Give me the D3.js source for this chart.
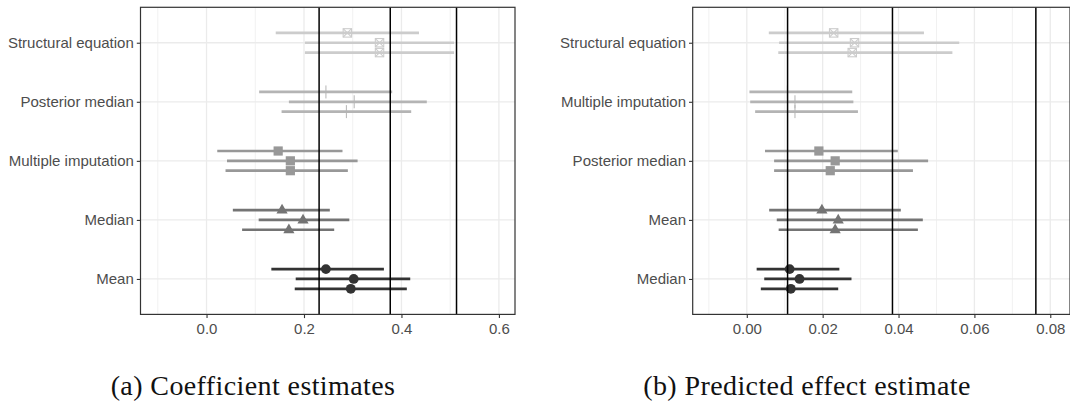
<!DOCTYPE html>
<html>
<head>
<meta charset="utf-8">
<script src="https://cdn.jsdelivr.net/npm/d3@7"></script>
<style>
  body { margin: 0; background: #fff; }
  svg { display: block; }
</style>
</head>
<body>
<svg id="chart" width="1070" height="410"></svg>
<script>
// panel (a): coefficient estimates
const methodsA = ["Structural equation", "Posterior median", "Multiple imputation", "Median", "Mean"];
const estA = [[0.289, 0.355, 0.355], [0.245, 0.303, 0.287], [0.147, 0.172, 0.172], [0.155, 0.198, 0.169], [0.245, 0.302, 0.296]];
const lowA = [[0.142, 0.202, 0.202], [0.108, 0.169, 0.154], [0.022, 0.042, 0.039], [0.054, 0.107, 0.073], [0.133, 0.183, 0.181]];
const highA = [[0.436, 0.508, 0.508], [0.381, 0.452, 0.420], [0.279, 0.310, 0.290], [0.253, 0.293, 0.262], [0.364, 0.418, 0.411]];
const refA = [0.231, 0.377, 0.513];
const ticksA = [0.0, 0.2, 0.4, 0.6];
const minorA = [-0.1, 0.1, 0.3, 0.5];

// panel (b): predicted effect estimate
const methodsB = ["Structural equation", "Multiple imputation", "Posterior median", "Mean", "Median"];
const estB = [[0.0229, 0.0284, 0.0278], [0.0107, 0.0127, 0.0127], [0.0190, 0.0233, 0.0220], [0.0198, 0.0241, 0.0233], [0.0113, 0.0139, 0.0116]];
const lowB = [[0.0058, 0.0085, 0.0083], [0.0007, 0.0009, 0.0022], [0.0048, 0.0072, 0.0072], [0.0059, 0.0079, 0.0084], [0.0026, 0.0046, 0.0037]];
const highB = [[0.0467, 0.0560, 0.0542], [0.0278, 0.0281, 0.0293], [0.0398, 0.0478, 0.0438], [0.0406, 0.0464, 0.0451], [0.0244, 0.0276, 0.0241]];
const refB = [0.01075, 0.0384, 0.0762];
const ticksB = [0.00, 0.02, 0.04, 0.06, 0.08];
const minorB = [-0.01, 0.01, 0.03, 0.05, 0.07];

const captions = ["(a) Coefficient estimates", "(b) Predicted effect estimate"];

// grey levels and shapes go by row position, top to bottom
const greys = ["#cccccc", "#b4b4b4", "#989898", "#747474", "#333333"];
const shapes = ["boxx", "bar", "square", "triangle", "circle"];

const svg = d3.select("#chart");

function drawPanel(opt) {
    const g = svg.append("g");
    const x = d3.scaleLinear().domain(opt.domain).range([opt.left, opt.right]);
    const y = d3.scalePoint().domain(opt.methods).range([7.3, 314.4]).padding(0.6);
    const step = y.step();
    const dodge = [-step / 6, 0, step / 6];

    // grid
    g.append("g").selectAll("line").data(opt.minor).join("line")
        .attr("x1", d => x(d)).attr("x2", d => x(d))
        .attr("y1", 7.3).attr("y2", 314.4)
        .attr("stroke", "#ebebeb").attr("stroke-width", 0.7);
    g.append("g").selectAll("line").data(opt.ticks).join("line")
        .attr("x1", d => x(d)).attr("x2", d => x(d))
        .attr("y1", 7.3).attr("y2", 314.4)
        .attr("stroke", "#ebebeb").attr("stroke-width", 1.3);
    g.append("g").selectAll("line").data(opt.methods).join("line")
        .attr("x1", opt.left).attr("x2", opt.right)
        .attr("y1", d => y(d)).attr("y2", d => y(d))
        .attr("stroke", "#ebebeb").attr("stroke-width", 1.3);

    // rows
    const rows = [];
    opt.methods.forEach((m, i) => {
        for (let k = 0; k < 3; k++) {
            rows.push({m: m, i: i, k: k, est: opt.est[i][k], lo: opt.low[i][k], hi: opt.high[i][k]});
        }
    });
    const yy = d => y(d.m) + dodge[d.k];

    g.append("g").selectAll("line").data(rows).join("line")
        .attr("x1", d => x(d.lo)).attr("x2", d => x(d.hi))
        .attr("y1", yy).attr("y2", yy)
        .attr("stroke", d => greys[d.i]).attr("stroke-width", 2.7);

    const pts = g.append("g").selectAll("g").data(rows).join("g")
        .attr("transform", d => `translate(${x(d.est)},${yy(d)})`);
    pts.each(function(d) {
        const p = d3.select(this), c = greys[d.i];
        const s = shapes[d.i];
        if (s === "circle") {
            p.append("circle").attr("r", 4.9).attr("fill", c);
        } else if (s === "square") {
            p.append("rect").attr("x", -4.6).attr("y", -4.6).attr("width", 9.2).attr("height", 9.2).attr("fill", c);
        } else if (s === "triangle") {
            p.append("path").attr("d", "M0,-6.2L5.6,3.5L-5.6,3.5Z").attr("fill", c);
        } else if (s === "bar") {
            p.append("line").attr("y1", -6.5).attr("y2", 6.5).attr("stroke", c).attr("stroke-width", 1);
        } else {
            p.append("rect").attr("x", -4.2).attr("y", -4.2).attr("width", 8.4).attr("height", 8.4)
                .attr("fill", "none").attr("stroke", c).attr("stroke-width", 1.1);
            p.append("path").attr("d", "M-4.2,-4.2L4.2,4.2M-4.2,4.2L4.2,-4.2")
                .attr("stroke", c).attr("stroke-width", 1.1);
        }
    });

    // reference lines
    g.append("g").selectAll("line").data(opt.refs).join("line")
        .attr("x1", d => x(d)).attr("x2", d => x(d))
        .attr("y1", 7.3).attr("y2", 314.4)
        .attr("stroke", "#000").attr("stroke-width", 1.5);

    // border
    g.append("rect").attr("x", opt.left).attr("y", 7.3)
        .attr("width", opt.right - opt.left).attr("height", 314.4 - 7.3)
        .attr("fill", "none").attr("stroke", "#333333").attr("stroke-width", 1.2);

    // axes
    const ax = g.append("g").attr("transform", "translate(0,314.4)")
        .call(d3.axisBottom(x).tickValues(opt.ticks).tickFormat(opt.fmt).tickSize(3.7).tickPadding(4));
    const ay = g.append("g").attr("transform", `translate(${opt.left},0)`)
        .call(d3.axisLeft(y).tickSize(3.7).tickPadding(3));
    [ax, ay].forEach(a => {
        a.select(".domain").remove();
        a.selectAll(".tick line").attr("stroke", "#333333").attr("stroke-width", 1.1);
        a.selectAll(".tick text").attr("fill", "#4d4d4d")
            .style("font-family", "'Liberation Sans', Arial, sans-serif").style("font-size", "15px");
    });
    ax.selectAll(".tick text").attr("dy", "0.71em").attr("y", 8.5);

    svg.append("text").attr("x", opt.cap).attr("y", 395)
        .attr("text-anchor", "middle")
        .style("font-family", "'Liberation Serif', 'DejaVu Serif', serif").style("font-size", "28px")
        .style("letter-spacing", "0.4px")
        .attr("fill", "#111").text(opt.caption);
}

drawPanel({methods: methodsA, est: estA, low: lowA, high: highA, refs: refA,
    ticks: ticksA, minor: minorA, domain: [-0.1355, 0.633], left: 140.5, right: 515,
    fmt: d3.format(".1f"), cap: 253, caption: captions[0]});
drawPanel({methods: methodsB, est: estB, low: lowB, high: highB, refs: refB,
    ticks: ticksB, minor: minorB, domain: [-0.01426, 0.0852], left: 692.7, right: 1070,
    fmt: d3.format(".2f"), cap: 807, caption: captions[1]});
</script>
</body>
</html>
